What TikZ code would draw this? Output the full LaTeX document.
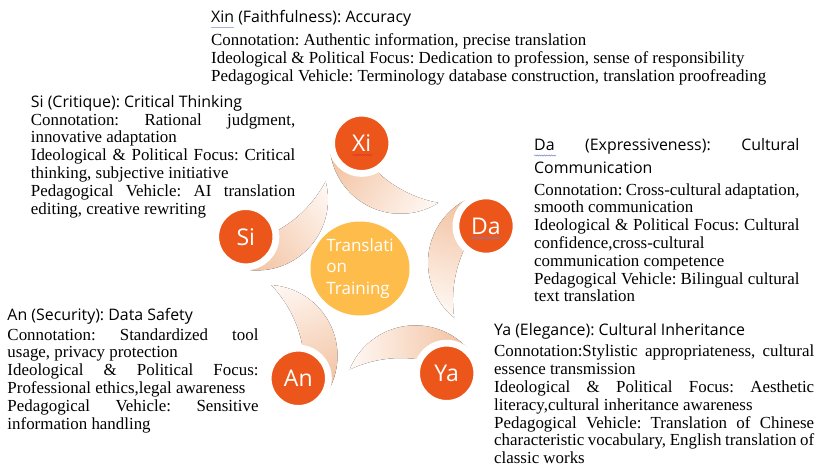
\documentclass[tikz,border=0pt]{standalone}
\usepackage{fontspec}
\setmainfont{Liberation Serif}
\newfontfamily\hdfont{Open Sans}
\usetikzlibrary{shapes.geometric,decorations.pathmorphing}
\frenchspacing

\definecolor{nodeorange}{RGB}{236,86,26}
\definecolor{hubyellow}{RGB}{254,189,74}
\definecolor{swdark}{RGB}{241,188,152}
\definecolor{swlight}{RGB}{255,249,245}
\definecolor{spellred}{RGB}{222,50,40}
\definecolor{spellblue}{RGB}{110,130,200}

\pgfdeclarelayer{background}
\pgfsetlayers{background,main}

\tikzset{
  pillar/.style={circle, fill=nodeorange, draw=white, line width=6.8pt,
    minimum size=60.2pt, inner sep=0pt, text=white,
    font=\hdfont\fontsize{23}{23}\selectfont},
  hub/.style={ellipse, fill=hubyellow, minimum width=99pt, minimum height=94pt,
    inner sep=0pt, text=white, align=left,
    font=\hdfont\fontsize{17}{21.7}\selectfont},
  headline/.style={anchor=base west, inner sep=0pt,
    font=\hdfont\fontsize{15.9}{22.6}\selectfont},
  headblock/.style={anchor=north west, inner sep=0pt, align=left,
    font=\hdfont\fontsize{15.9}{22.6}\selectfont},
  bodytext/.style={anchor=north west, inner sep=0pt, align=left,
    font=\fontsize{16.9}{17.8}\selectfont},
  swoosh/.style={left color=swdark, right color=swlight},
  squiggle/.style={decorate, decoration={snake, amplitude=0.6pt, segment length=2.4pt},
    line width=0.5pt},
}

% a justified line of given width
\newcommand\jline[2]{\makebox[#1][s]{#2}}

% curved gradient swoosh leaving node #1 towards node #2
\newcommand\swooshfrom[2]{%
  \pgfmathanglebetweenpoints{\pgfpointanchor{#1}{center}}{\pgfpointanchor{#2}{center}}%
  \edef\swangle{\pgfmathresult}%
  \fill[swoosh, transform canvas={shift={(#1.center)}, rotate=\swangle}]
    (96.8,7.2) arc[start angle=24.3, end angle=150, radius=71]
    -- (7.9,9.6) arc[start angle=110, end angle=66.8, radius=120.8] -- cycle;
}

\begin{document}
\begin{tikzpicture}[x=1pt,y=-1pt]
\useasboundingbox (0,0) rectangle (820,468);

% hub and the five pillars
\node[hub] (hub) at (360,268.5) {Translati\\on\\Training};
\node[pillar] (Xi) at (361.7,143.3) {Xi};
\node[pillar] (Da) at (486,226) {Da};
\node[pillar] (Ya) at (446.7,373.3) {Ya};
\node[pillar] (An) at (298.3,378.3) {An};
\node[pillar] (Si) at (245.8,236.7) {Si};

\begin{pgfonlayer}{background}
  \fill[white] (0,0) rectangle (820,468);
  \swooshfrom{Xi}{Da}
  \swooshfrom{Da}{Ya}
  \swooshfrom{Ya}{An}
  \swooshfrom{An}{Si}
  \swooshfrom{Si}{Xi}
\end{pgfonlayer}

% spell-check marks
\draw[squiggle, spellred] (352.5,155) -- (372.5,155);
\draw[squiggle, spellblue] (471,238) -- (501,238);

% Xin
\node[headline] (xinH) at (211,23) {Xin (Faithfulness): Accuracy};
\draw[line width=0.5pt, spellblue!60] (211,27.6) -- (234,27.6);
\node[bodytext] (xinB) at (211,33.2) {\strut Connotation: Authentic information, precise translation\\
Ideological \& Political Focus: Dedication to profession, sense of responsibility\\
Pedagogical Vehicle: Terminology database construction, translation proofreading};

% Si
\node[headline] (siH) at (30.7,107.5) {Si (Critique): Critical Thinking};
\node[bodytext] (siB) at (30.7,112.5) {\strut\jline{264.3pt}{Connotation: Rational judgment,}\\
innovative adaptation\\
\jline{264.3pt}{Ideological \& Political Focus: Critical}\\
thinking, subjective initiative\\
\jline{264.3pt}{Pedagogical Vehicle: AI translation}\\
editing, creative rewriting};

% Da
\node[headblock] (daH) at (534,134.9) {\strut\jline{265.3pt}{Da (Expressiveness): Cultural}\\
Communication};
\draw[squiggle, spellblue] (534,155.5) -- (556,155.5);
\node[bodytext] (daB) at (534,182.5) {\strut\jline{265.3pt}{Connotation: Cross-cultural adaptation,}\\
smooth communication\\
\jline{265.3pt}{Ideological \& Political Focus: Cultural}\\
confidence,cross-cultural\\
communication competence\\
\jline{265.3pt}{Pedagogical Vehicle: Bilingual cultural}\\
text translation};

% An
\node[headline] (anH) at (7.3,320) {An (Security): Data Safety};
\node[bodytext] (anB) at (7.3,327.5) {\strut\jline{251pt}{Connotation: Standardized tool}\\
usage, privacy protection\\
\jline{251pt}{Ideological \& Political Focus:}\\
Professional ethics,legal awareness\\
\jline{251pt}{Pedagogical Vehicle: Sensitive}\\
information handling};

% Ya
\node[headline] (yaH) at (494,335.7) {Ya (Elegance): Cultural Inheritance};
\node[bodytext] (yaB) at (494,344.2) {\strut\jline{320pt}{Connotation:Stylistic appropriateness, cultural}\\
essence transmission\\
\jline{320pt}{Ideological \& Political Focus: Aesthetic}\\
literacy,cultural inheritance awareness\\
\jline{320pt}{Pedagogical Vehicle: Translation of Chinese}\\
\jline{320pt}{characteristic vocabulary, English translation of}\\
classic works};
\end{tikzpicture}
\end{document}
